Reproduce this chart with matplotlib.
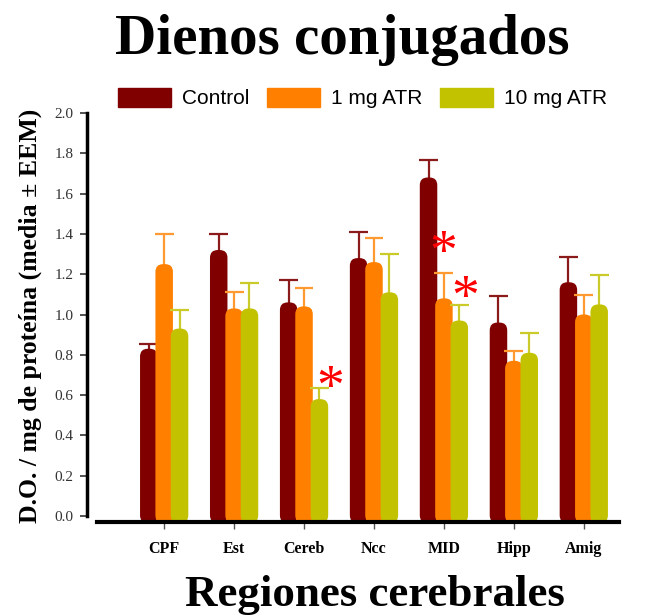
import matplotlib.pyplot as plt
import numpy as np
from matplotlib.patches import FancyBboxPatch, Patch

regions = ["CPF", "Est", "Cereb", "Ncc", "MID", "Hipp", "Amig"]
groups = ["Control", "1 mg ATR", "10 mg ATR"]

control = [0.83, 1.32, 1.06, 1.28, 1.68, 0.96, 1.16]
atr_1 = [1.25, 1.03, 1.04, 1.26, 1.08, 0.77, 1.00]
atr_10 = [0.93, 1.03, 0.58, 1.11, 0.97, 0.81, 1.05]

control_err = [0.025, 0.08, 0.11, 0.13, 0.085, 0.13, 0.125]
atr_1_err = [0.15, 0.08, 0.09, 0.12, 0.125, 0.05, 0.095]
atr_10_err = [0.09, 0.125, 0.055, 0.19, 0.075, 0.10, 0.145]

# significant vs control: (region index, group index)
signif = [(2, 2), (4, 1), (4, 2)]

colors = ["#800000", "#ff8000", "#c2c200"]
err_colors = ["#8b1a1a", "#ff9a33", "#caca2a"]

fig = plt.figure(figsize=(6.51, 6.16), dpi=100)
ax = fig.add_axes([0.134, 0.146, 0.818, 0.6705])

# spine position first, it resets the tick labels
for s in ["top", "right"]:
    ax.spines[s].set_visible(False)
ax.spines["bottom"].set_position(("data", -0.03))
ax.spines["bottom"].set_bounds(-0.96, 6.5)
ax.spines["bottom"].set_linewidth(3)
ax.spines["bottom"].set_zorder(10)
ax.spines["left"].set_bounds(0, 2.0)
ax.spines["left"].set_linewidth(2.5)

x = np.arange(len(regions))
offsets = [-0.22, 0.0, 0.22]
width = 0.25
cap = 0.135
base = -0.035
aspect = (1 / 201.5) / (1 / 70)

series = [control, atr_1, atr_10]
errs = [control_err, atr_1_err, atr_10_err]
for i, (vals, err) in enumerate(zip(series, errs)):
    vals = np.array(vals)
    tops = vals + np.array(err)
    xs = x + offsets[i]
    bars = ax.bar(xs, vals - base, width, bottom=base, color=colors[i],
                  zorder=2 + i)
    # rounded bars in place of the square ones
    for b in bars:
        b.set_visible(False)
        ax.add_patch(FancyBboxPatch((b.get_x(), b.get_y()), b.get_width(),
                                    b.get_height(),
                                    boxstyle="round,pad=0,rounding_size=0.11",
                                    mutation_aspect=aspect, fc=colors[i],
                                    ec="none", zorder=2 + i))
    # upper error bar only
    ax.vlines(xs, vals - 0.05, tops, color=err_colors[i], lw=1.6,
              zorder=1.5 + i)
    ax.hlines(tops, xs - cap, xs + cap, color=err_colors[i], lw=1.6,
              zorder=1.5 + i)

# asterisk offsets in pixels from the top of each error bar
star_shift = [(11, -2), (-1, 18), (6, 5)]
for (ri, gi), (dx, dy) in zip(signif, star_shift):
    top = series[gi][ri] + errs[gi][ri]
    ax.annotate("*", (x[ri] + offsets[gi], top), xytext=(dx * 0.72, dy * 0.72),
                textcoords="offset points", color="red", fontsize=40,
                family="Liberation Serif", ha="center", va="center")

ax.set_xlim(-1.1, 6.514)
ax.set_ylim(-0.05, 2.0)
yt = np.arange(0, 2.01, 0.2)
ax.set_yticks(yt)
ax.set_yticklabels([f"{v:.1f}" for v in yt], family="Liberation Serif",
                   fontsize=11, color="#333333")
ax.set_xticks(x)
ax.set_xticklabels(regions, family="Liberation Serif", fontsize=11.5,
                   fontweight="bold")
ax.tick_params(axis="y", length=5, width=1.2, color="#333333", pad=5)
ax.tick_params(axis="x", length=5, width=1, color="#555555", pad=9)

fig.text(0.046, 0.488, "D.O. / mg de proteína (media ± EEM)",
         family="Liberation Serif", fontsize=18.5, fontweight="bold",
         rotation=90, ha="center", va="center")
fig.text(0.576, 0.016, "Regiones cerebrales", family="Liberation Serif",
         fontsize=32.4, fontweight="bold", ha="center", va="baseline")
fig.text(0.526, 0.935, "Dienos conjugados", family="Liberation Serif",
         fontsize=41, fontweight="bold", ha="center", va="center")

handles = [Patch(color=c, label=g) for c, g in zip(colors, groups)]
fig.legend(handles=handles, loc="center", bbox_to_anchor=(0.557, 0.841),
           ncol=3, frameon=False,
           prop={"family": "Liberation Sans", "size": 15},
           handlelength=2.55, handleheight=1.05, columnspacing=0.87,
           handletextpad=0.5)

fig.savefig("out.png", dpi=100)
